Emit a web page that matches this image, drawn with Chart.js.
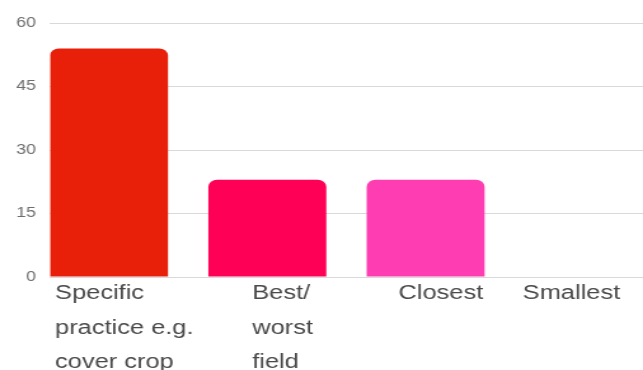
<!DOCTYPE html>
<html>
<head>
<meta charset="utf-8">
<script src="https://cdn.jsdelivr.net/npm/chart.js@4/dist/chart.umd.min.js"></script>
<style>
  html, body { margin: 0; padding: 0; background: #fff; overflow: hidden; }
  /* the reference is stretched sideways, so draw narrower and widen it */
  #wrap {
    position: absolute; left: 0; top: 0;
    width: 506px; height: 370px;
    transform: scaleX(1.2708); transform-origin: 0 0;
  }
</style>
</head>
<body>
<div id="wrap"><canvas id="chart"></canvas></div>
<script>
// data
const categories = [
  ['Specific', 'practice e.g.', 'cover crop'],
  ['Best/', 'worst', 'field'],
  ['Closest'],
  ['Smallest']
];
const counts = [54, 23, 23, 0];
const barColors = ['#e8200a', '#ff0057', '#ff3db2'];
const yTicks = [0, 15, 30, 45, 60];

// draws the wrapped category labels, lines left aligned inside each block,
// kept inside the right edge of the plot
const categoryLabels = {
  id: 'categoryLabels',
  afterDraw(chart) {
    const ctx = chart.ctx;
    const xScale = chart.scales.x;
    const area = chart.chartArea;
    ctx.save();
    ctx.font = '20px "Liberation Sans", Arial, sans-serif';
    ctx.fillStyle = '#4a4a4a';
    ctx.textAlign = 'left';
    ctx.textBaseline = 'alphabetic';
    categories.forEach((lines, i) => {
      const center = xScale.getPixelForValue(i);
      const widest = Math.max(...lines.map(l => ctx.measureText(l).width));
      const left = Math.min(center - widest / 2 + 12, area.right - widest - 18);
      lines.forEach((line, k) => {
        ctx.fillText(line, left, area.bottom + 22 + k * 34.5);
      });
    });
    ctx.restore();
  }
};

new Chart(document.getElementById('chart'), {
  type: 'bar',
  data: {
    datasets: [{
      data: counts.map((v, i) => ({ x: i, y: v })),
      backgroundColor: counts.map((v, i) => barColors[i % barColors.length]),
      borderRadius: 7,
      borderSkipped: 'start',
      categoryPercentage: 1,
      barPercentage: 0.745
    }]
  },
  options: {
    responsive: true,
    maintainAspectRatio: false,
    animation: false,
    layout: { padding: { top: 23, bottom: 93, left: 0, right: 0 } },
    plugins: {
      legend: { display: false },
      tooltip: { enabled: false }
    },
    scales: {
      x: {
        type: 'linear',
        display: false,
        offset: false,
        grid: { offset: false },
        bounds: 'ticks',
        min: -0.373,
        max: 3.373,
        ticks: { stepSize: 1, includeBounds: false }
      },
      y: {
        min: 0,
        max: 60,
        afterFit(scale) { scale.width = 39.3; },
        afterBuildTicks(scale) { scale.ticks = yTicks.map(v => ({ value: v })); },
        border: { display: false },
        grid: { color: '#d9d9d9', lineWidth: 1, drawTicks: false },
        ticks: {
          padding: 11,
          color: '#6e6e6e',
          font: { family: '"Liberation Sans", Arial, sans-serif', size: 14 }
        }
      }
    }
  },
  plugins: [categoryLabels]
});
</script>
</body>
</html>
